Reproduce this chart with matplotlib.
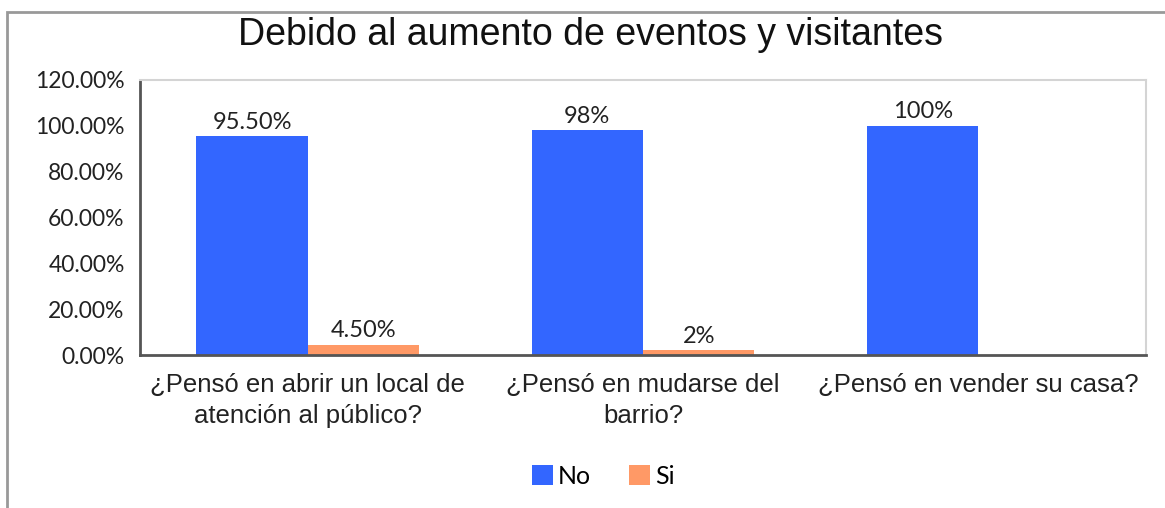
import matplotlib.pyplot as plt
from matplotlib.patches import Rectangle
import numpy as np

categories = ["¿Pensó en abrir un local de\natención al público?",
              "¿Pensó en mudarse del\nbarrio?",
              "¿Pensó en vender su casa?"]
no_values = [95.5, 98, 100]
si_values = [4.5, 2, None]
no_labels = ["95.50%", "98%", "100%"]
si_labels = ["4.50%", "2%", ""]
yticks = [0, 20, 40, 60, 80, 100, 120]

blue = "#3366FF"
orange = "#FF9966"

fig = plt.figure(figsize=(11.65, 5.08), dpi=100)
ax = fig.add_axes([140/1165, 1 - 355/508, 1006/1165, 275/508])

x = np.arange(len(categories))
w = 0.332
si_plot = [v if v is not None else 0 for v in si_values]
b1 = ax.bar(x - w/2, no_values, w, color=blue, label="No")
b2 = ax.bar(x + w/2, si_plot, w, color=orange, label="Si")

for rect, lab in zip(b1, no_labels):
    ax.text(rect.get_x() + rect.get_width()/2, rect.get_height() + 1.5, lab,
            ha="center", va="bottom", fontsize=17, family="Lato", color="#222222")
for rect, lab, v in zip(b2, si_labels, si_values):
    if v is None:
        continue
    ax.text(rect.get_x() + rect.get_width()/2, rect.get_height() + 1.5, lab,
            ha="center", va="bottom", fontsize=17, family="Lato", color="#222222")

ax.set_xlim(-0.5, 2.5)
ax.set_ylim(0, 120)
ax.set_yticks(yticks)
ax.set_yticklabels(["{:.2f}%".format(v) for v in yticks], family="Lato", fontsize=16.5, color="#222222")
ax.set_xticks(x)
ax.set_xticklabels(categories, family="Liberation Sans", fontsize=18.5, color="#222222", linespacing=1.35)
ax.tick_params(axis="both", length=0)
ax.tick_params(axis="y", pad=11)
ax.tick_params(axis="x", pad=13)

for s in ["left", "bottom"]:
    ax.spines[s].set_color("#555555")
    ax.spines[s].set_linewidth(2)
for s in ["top", "right"]:
    ax.spines[s].set_color("#d4d4d4")
    ax.spines[s].set_linewidth(1.5)

fig.text(590/1165, 1 - 35/508, "Debido al aumento de eventos y visitantes",
         ha="center", va="center", fontsize=27, family="Liberation Sans", color="#111111")

leg = fig.legend(handles=[b1, b2], labels=["No", "Si"], loc="center",
                 bbox_to_anchor=(603/1165, 1 - 476/508), ncol=2, frameon=False,
                 prop={"family": "Lato", "size": 18}, handlelength=0.85, handleheight=0.85,
                 handletextpad=0.2, columnspacing=1.5)

fig.patches.append(Rectangle((7/1165, -0.1), 1.2, 1 - 12/508 + 0.1, transform=fig.transFigure,
                             fill=False, edgecolor="#999999", linewidth=2))

fig.savefig("out.png", dpi=100)
